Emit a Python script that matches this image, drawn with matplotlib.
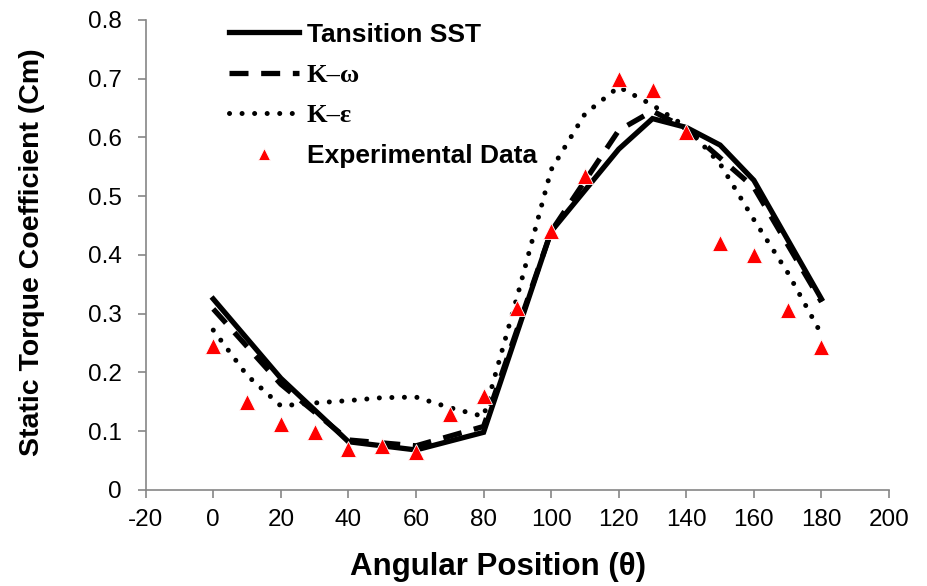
import matplotlib
matplotlib.use("Agg")
import matplotlib.pyplot as plt
from matplotlib.ticker import FuncFormatter, MultipleLocator

plt.rcParams['axes.unicode_minus'] = False
plt.rcParams['font.family'] = ['Liberation Sans', 'DejaVu Sans']

# Data
sst_x = [0, 20, 40, 60, 80, 100, 120, 130, 140, 150, 160, 180]
sst_y = [0.325, 0.19, 0.082, 0.068, 0.098, 0.44, 0.58, 0.632, 0.617, 0.587, 0.527, 0.325]

kw_x = [0, 20, 40, 60, 80, 100, 120, 130, 140, 160, 180]
kw_y = [0.308, 0.18, 0.085, 0.075, 0.108, 0.44, 0.612, 0.645, 0.615, 0.515, 0.32]

ke_x = [0, 10, 20, 30, 40, 50, 60, 70, 80, 90, 100, 110, 120, 130, 140, 150, 160, 170, 180]
ke_y = [0.272, 0.195, 0.143, 0.148, 0.152, 0.157, 0.158, 0.140, 0.125, 0.33, 0.545, 0.64, 0.686, 0.655, 0.618, 0.555, 0.46, 0.37, 0.265]

exp_x = [0, 10, 20, 30, 40, 50, 60, 70, 80, 90, 100, 110, 120, 130, 140, 150, 160, 170, 180]
exp_y = [0.245, 0.15, 0.113, 0.098, 0.07, 0.075, 0.065, 0.13, 0.16, 0.31, 0.44, 0.535, 0.70, 0.68, 0.61, 0.42, 0.40, 0.307, 0.243]

labels = ['Tansition SST', 'K\u2013\u03c9', 'K\u2013\u03b5', 'Experimental Data']

fig = plt.figure(figsize=(9.28, 5.86), dpi=100)
ax = fig.add_axes([0.157, 0.164, 0.801, 0.802])

axis_gray = '#868686'
l1, = ax.plot(sst_x, sst_y, color='black', lw=3.8, solid_joinstyle='miter', zorder=3)
l2, = ax.plot(kw_x, kw_y, color='black', lw=3.8, dashes=(3.6, 2.4), zorder=3)
l3, = ax.plot(ke_x, ke_y, color='black', lw=3.6, dashes=(0.01, 2.5), dash_capstyle='round', zorder=3)
l4, = ax.plot(exp_x, exp_y, linestyle='none', marker='^', markersize=11,
              markerfacecolor='#ff0000', markeredgecolor='white', markeredgewidth=0.6, zorder=4)

ax.set_xlim(-20, 200)
ax.set_ylim(0, 0.8)
ax.xaxis.set_major_locator(MultipleLocator(20))
ax.yaxis.set_major_locator(MultipleLocator(0.1))
ax.yaxis.set_major_formatter(FuncFormatter(lambda v, p: '0' if abs(v) < 1e-9 else f'{v:.1f}'))

for s in ['top', 'right']:
    ax.spines[s].set_visible(False)
for s in ['left', 'bottom']:
    ax.spines[s].set_color(axis_gray)
    ax.spines[s].set_linewidth(1.2)
ax.tick_params(axis='both', colors=axis_gray, length=5.5, width=1.2, labelcolor='black', labelsize=17.5)
ax.tick_params(axis='x', pad=8)
ax.tick_params(axis='y', pad=12)

ax.set_xlabel('Angular Position (\u03b8)', fontsize=22.5, fontweight='bold')
ax.set_ylabel('Static Torque Coefficient (Cm)', fontsize=20.5, fontweight='bold')
ax.xaxis.set_label_coords(0.474, -0.132)
ax.yaxis.set_label_coords(-0.136, 0.505)

leg = ax.legend([l1, l2, l3, l4], labels, loc='upper left', bbox_to_anchor=(0.08, 1.045),
                frameon=False, fontsize=19, handlelength=2.65, handletextpad=0.3,
                labelspacing=0.64, numpoints=1, markerscale=0.8)
for i, t in enumerate(leg.get_texts()):
    t.set_fontweight('bold')
    if i in (1, 2):
        t.set_family(['Liberation Serif', 'DejaVu Serif'])

fig.savefig('out.png', dpi=100)
